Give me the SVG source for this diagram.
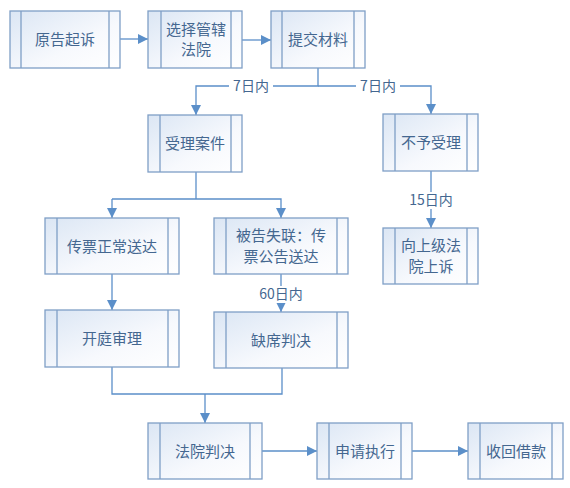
<svg xmlns="http://www.w3.org/2000/svg" width="570" height="488" viewBox="0 0 570 488">
<defs>
<linearGradient id="g" x1="0" y1="0" x2="1" y2="1">
<stop offset="0" stop-color="#dbe6f4"/>
<stop offset="0.6" stop-color="#f7f9fd"/>
<stop offset="1" stop-color="#ffffff"/>
</linearGradient>
<marker id="ar" viewBox="0 0 10 10" refX="10" refY="5" markerWidth="10" markerHeight="10" markerUnits="userSpaceOnUse" orient="auto">
<path d="M0,0 L10,5 L0,10 z" fill="#5b8fc9"/>
</marker>
<style>
.b{fill:url(#g);stroke:#7f9fc6;stroke-width:1.3}
.s{stroke:#7f9fc6;stroke-width:1.3;fill:none}
.t{font-family:"Noto Sans CJK SC","Liberation Sans",sans-serif;font-size:15px;fill:#446790;text-anchor:middle}
.l{font-family:"Noto Sans CJK SC","Liberation Sans",sans-serif;font-size:14px;fill:#446790;text-anchor:middle}
.c{stroke:#5b8fc9;stroke-width:1.3;fill:none}
.a{marker-end:url(#ar)}
</style>
</defs>
<g id="connectors">
<path class="c a" d="M120,39 H148"/>
<path class="c a" d="M242,40 H271"/>
<path class="c a" d="M318,68 V86 H196 V115"/>
<path class="c a" d="M318,86 H431 V114"/>
<rect x="229" y="78" width="44" height="16" fill="#fff"/>
<text class="l" x="251" y="91">7日内</text>
<rect x="356" y="78" width="44" height="16" fill="#fff"/>
<text class="l" x="378" y="91">7日内</text>
<path class="c" d="M196,172 V199"/>
<path class="c a" d="M112,199 H281 V218"/>
<path class="c a" d="M112,199 V218"/>
<path class="c a" d="M431,171 V228"/>
<rect x="406" y="192" width="50" height="17" fill="#fff"/>
<text class="l" x="431" y="205">15日内</text>
<path class="c a" d="M281,274 V312"/>
<rect x="256" y="286" width="50" height="17" fill="#fff"/>
<text class="l" x="281" y="299">60日内</text>
<path class="c a" d="M112,274 V310"/>
<path class="c" d="M112,367 V394 H282 V368"/>
<path class="c a" d="M205,394 V423"/>
<path class="c a" d="M262,451 H317"/>
<path class="c a" d="M412,451 H468"/>
</g>
<g id="n1"><rect class="b" x="10" y="11" width="110" height="57"/><path class="s" d="M21,11 V68 M109,11 V68"/><text class="t" x="65" y="45">原告起诉</text></g>
<g id="n2"><rect class="b" x="148" y="11" width="94" height="57"/><path class="s" d="M161,11 V68 M231,11 V68"/><text class="t" x="196" y="35">选择管辖</text><text class="t" x="196" y="55">法院</text></g>
<g id="n3"><rect class="b" x="271" y="11" width="94" height="57"/><path class="s" d="M282,11 V68 M354,11 V68"/><text class="t" x="318" y="45">提交材料</text></g>
<g id="n4"><rect class="b" x="148" y="115" width="94" height="57"/><path class="s" d="M160,115 V172 M231,115 V172"/><text class="t" x="195" y="149">受理案件</text></g>
<g id="n5"><rect class="b" x="383" y="114" width="95" height="57"/><path class="s" d="M395,114 V171 M467,114 V171"/><text class="t" x="431" y="148">不予受理</text></g>
<g id="n6"><rect class="b" x="383" y="228" width="95" height="56"/><path class="s" d="M395,228 V284 M467,228 V284"/><text class="t" x="431" y="251">向上级法</text><text class="t" x="431" y="272">院上诉</text></g>
<g id="n7"><rect class="b" x="45" y="218" width="134" height="56"/><path class="s" d="M57,218 V274 M168,218 V274"/><text class="t" x="112" y="252">传票正常送达</text></g>
<g id="n8"><rect class="b" x="214" y="218" width="134" height="56"/><path class="s" d="M226,218 V274 M337,218 V274"/><text class="t" x="281" y="241">被告失联：传</text><text class="t" x="281" y="262">票公告送达</text></g>
<g id="n9"><rect class="b" x="45" y="310" width="134" height="57"/><path class="s" d="M57,310 V367 M168,310 V367"/><text class="t" x="112" y="344">开庭审理</text></g>
<g id="n10"><rect class="b" x="214" y="312" width="134" height="56"/><path class="s" d="M226,312 V368 M337,312 V368"/><text class="t" x="281" y="346">缺席判决</text></g>
<g id="n11"><rect class="b" x="148" y="423" width="114" height="56"/><path class="s" d="M160,423 V479 M250,423 V479"/><text class="t" x="205" y="457">法院判决</text></g>
<g id="n12"><rect class="b" x="317" y="423" width="95" height="56"/><path class="s" d="M329,423 V479 M401,423 V479"/><text class="t" x="365" y="457">申请执行</text></g>
<g id="n13"><rect class="b" x="468" y="423" width="95" height="56"/><path class="s" d="M480,423 V479 M552,423 V479"/><text class="t" x="516" y="457">收回借款</text></g>
</svg>
